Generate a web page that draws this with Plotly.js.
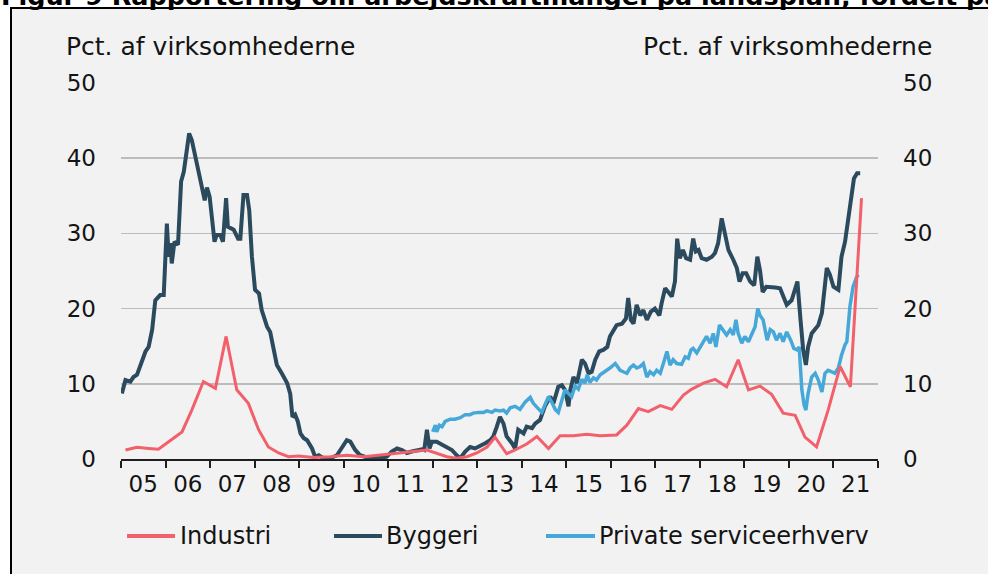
<!DOCTYPE html>
<html>
<head>
<meta charset="utf-8">
<script src="https://cdn.plot.ly/plotly-3.0.1.min.js"></script>
<style>
html,body{margin:0;padding:0;background:#ffffff;}
#chart{width:988px;height:574px;}
</style>
</head>
<body>
<div id="chart"></div>
<script>
// ---------- DATA ----------
const seriesNames = ['Industri', 'Byggeri', 'Private serviceerhverv'];
const yearStarts = [2005,2006,2007,2008,2009,2010,2011,2012,2013,2014,2015,2016,2017,2018,2019,2020,2021,2022];
const yearLabels = ['05','06','07','08','09','10','11','12','13','14','15','16','17','18','19','20','21'];
const yTicks = [0,10,20,30,40,50];
const titleText = 'Figur 9 Rapportering om arbejdskraftmangel på landsplan, fordelt på brancher';
const axisTitle = 'Pct. af virksomhederne';

const industriYears = [2005.10,2005.36,2005.62,2005.84,2006.07,2006.37,2006.59,2006.85,2007.12,2007.36,2007.60,2007.86,2008.09,2008.31,2008.54,2008.76,2008.99,2009.32,2009.70,2010.07,2010.45,2010.82,2011.20,2011.57,2011.87,2012.09,2012.32,2012.54,2012.77,2012.99,2013.22,2013.40,2013.66,2013.85,2014.11,2014.34,2014.60,2014.86,2015.16,2015.46,2015.76,2016.13,2016.36,2016.62,2016.84,2017.11,2017.37,2017.63,2017.82,2018.08,2018.34,2018.60,2018.86,2019.09,2019.35,2019.61,2019.87,2020.14,2020.36,2020.62,2020.88,2021.15,2021.38,2021.63];
const industriValues = [1.2,1.55,1.4,1.3,2.3,3.6,6.5,10.3,9.4,16.3,9.2,7.4,3.9,1.6,0.8,0.3,0.4,0.2,0.3,0.5,0.3,0.5,0.8,1.0,1.2,0.8,0.3,0.1,0.3,0.8,1.6,2.9,0.7,1.2,2.0,3.0,1.4,3.1,3.1,3.3,3.1,3.2,4.5,6.7,6.3,7.1,6.6,8.5,9.3,10.1,10.6,9.6,13.2,9.2,9.7,8.6,6.1,5.8,2.9,1.6,6.5,12.3,9.6,34.7];

const byggeriYears = [2005.02,2005.10,2005.21,2005.28,2005.36,2005.47,2005.55,2005.62,2005.70,2005.77,2005.88,2005.96,2006.03,2006.07,2006.11,2006.14,2006.20,2006.28,2006.35,2006.41,2006.47,2006.53,2006.59,2006.67,2006.74,2006.83,2006.88,2006.93,2006.99,2007.04,2007.10,2007.15,2007.23,2007.29,2007.36,2007.40,2007.45,2007.53,2007.63,2007.68,2007.75,2007.83,2007.88,2007.94,2008.01,2008.10,2008.16,2008.28,2008.35,2008.43,2008.50,2008.61,2008.73,2008.80,2008.85,2008.91,2008.97,2009.03,2009.10,2009.18,2009.29,2009.36,2009.44,2009.55,2009.70,2009.85,2009.96,2010.07,2010.15,2010.26,2010.37,2010.52,2010.75,2010.97,2011.08,2011.20,2011.31,2011.42,2011.53,2011.64,2011.76,2011.81,2011.87,2011.93,2011.98,2012.09,2012.21,2012.32,2012.43,2012.54,2012.62,2012.73,2012.84,2012.95,2013.07,2013.18,2013.29,2013.36,2013.44,2013.51,2013.59,2013.66,2013.78,2013.85,2013.92,2014.04,2014.11,2014.23,2014.30,2014.41,2014.52,2014.64,2014.71,2014.82,2014.90,2014.97,2015.05,2015.09,2015.16,2015.24,2015.35,2015.42,2015.50,2015.57,2015.65,2015.74,2015.83,2015.92,2015.98,2016.06,2016.13,2016.25,2016.34,2016.39,2016.45,2016.51,2016.58,2016.66,2016.73,2016.81,2016.90,2016.99,2017.09,2017.14,2017.22,2017.29,2017.37,2017.44,2017.49,2017.55,2017.62,2017.69,2017.78,2017.85,2017.91,2017.97,2018.04,2018.15,2018.27,2018.34,2018.41,2018.49,2018.56,2018.64,2018.75,2018.83,2018.89,2018.96,2019.04,2019.13,2019.22,2019.29,2019.35,2019.41,2019.49,2019.58,2019.69,2019.80,2019.87,2019.95,2020.06,2020.14,2020.19,2020.26,2020.32,2020.38,2020.43,2020.51,2020.59,2020.66,2020.74,2020.79,2020.85,2020.92,2021.00,2021.11,2021.18,2021.26,2021.33,2021.41,2021.46,2021.53,2021.60];
const byggeriValues = [8.7,10.5,10.3,10.9,11.2,13.2,14.3,14.9,17.2,21.1,21.8,21.8,31.3,26.9,28.7,26.0,28.9,28.5,36.9,38.2,40.6,43.3,42.4,40.2,38.0,35.5,34.4,36.1,34.9,32.2,28.9,29.8,29.8,28.9,34.7,30.9,30.7,30.5,29.3,29.3,35.1,35.1,33.1,26.9,22.5,22.0,19.8,17.6,16.9,14.5,12.5,11.4,10.1,8.7,5.6,5.9,5.0,3.4,2.8,2.5,1.4,0.3,0.5,0.1,0.1,0.5,1.4,2.5,2.3,1.2,0.5,0.2,0.1,0.3,1.0,1.4,1.2,0.8,1.0,1.2,1.3,1.2,3.9,1.4,2.3,2.3,1.9,1.6,1.2,0.5,0.1,1.0,1.6,1.4,1.7,2.1,2.5,3.0,4.3,5.6,4.7,3.0,2.1,1.4,3.9,3.4,4.3,4.1,4.7,5.2,7.0,8.3,7.4,9.6,9.8,9.2,7.0,9.2,10.9,10.1,13.2,12.7,11.4,11.6,13.2,14.3,14.5,14.9,16.3,17.2,17.8,18.0,18.7,21.4,18.5,18.0,20.5,19.1,19.8,18.5,19.6,20.0,19.1,20.7,22.7,22.2,21.6,23.6,29.3,26.7,27.8,26.7,26.5,29.3,27.6,27.8,26.7,26.5,26.9,27.4,28.7,32.0,30.2,27.8,26.5,25.4,23.6,24.7,24.7,23.6,23.1,26.9,25.1,22.2,22.9,22.9,22.8,22.7,21.6,20.5,21.1,22.7,23.6,18.5,14.5,12.5,14.9,16.7,17.4,17.8,19.4,22.5,25.4,24.5,22.9,22.5,26.9,28.9,32.0,35.8,37.3,38.0,38.0];

const serviceYears = [2012.00,2012.06,2012.09,2012.15,2012.21,2012.28,2012.39,2012.50,2012.62,2012.73,2012.84,2012.91,2013.03,2013.14,2013.22,2013.33,2013.40,2013.51,2013.59,2013.66,2013.74,2013.85,2013.96,2014.08,2014.19,2014.26,2014.37,2014.45,2014.52,2014.60,2014.67,2014.75,2014.82,2014.90,2014.97,2015.05,2015.12,2015.20,2015.27,2015.35,2015.42,2015.47,2015.53,2015.61,2015.68,2015.76,2015.87,2015.98,2016.10,2016.21,2016.28,2016.36,2016.43,2016.51,2016.58,2016.66,2016.73,2016.81,2016.88,2016.96,2017.03,2017.11,2017.18,2017.26,2017.33,2017.40,2017.48,2017.59,2017.67,2017.74,2017.80,2017.85,2017.93,2018.00,2018.08,2018.15,2018.23,2018.30,2018.36,2018.44,2018.51,2018.60,2018.68,2018.75,2018.81,2018.86,2018.94,2019.01,2019.09,2019.16,2019.24,2019.30,2019.35,2019.42,2019.51,2019.58,2019.65,2019.72,2019.80,2019.87,2019.95,2020.04,2020.11,2020.19,2020.23,2020.29,2020.34,2020.38,2020.43,2020.51,2020.59,2020.66,2020.74,2020.81,2020.88,2020.96,2021.03,2021.11,2021.18,2021.26,2021.30,2021.37,2021.44,2021.52,2021.56];
const serviceValues = [3.6,4.5,3.6,4.5,4.3,5.0,5.3,5.3,5.5,5.9,5.9,6.1,6.2,6.2,6.4,6.2,6.5,6.4,6.5,6.1,6.8,7.0,6.6,7.6,8.2,7.4,6.7,6.2,7.2,8.3,7.6,6.6,6.2,7.8,9.2,8.7,8.3,9.7,9.3,10.6,10.1,11.2,10.2,10.8,10.5,11.2,11.6,12.1,12.7,11.8,11.6,11.4,12.1,12.5,12.1,12.3,12.7,10.9,11.6,11.2,11.8,11.4,12.7,14.3,12.5,13.2,12.7,12.6,13.6,13.4,14.5,14.7,14.1,14.9,15.6,16.3,15.4,16.7,14.9,17.8,17.2,16.5,17.2,16.5,18.5,16.7,15.4,16.3,15.6,16.5,17.6,20.0,19.1,18.5,15.8,17.2,16.9,15.8,16.7,15.6,16.9,15.8,14.7,14.5,14.9,9.2,7.2,6.5,8.7,10.9,11.4,10.5,8.9,11.4,11.8,11.6,11.4,12.1,13.8,15.2,15.6,20.3,22.9,24.2,24.5];

// ---------- STYLE ----------
const colors = {industri: '#f2616b', byggeri: '#2b4a5e', service: '#46a8d8'};
const W = 988, H = 574;
const M = {l: 121, r: 110, t: 83, b: 115};
const PW = W - M.l - M.r, PH = H - M.t - M.b;
const px = v => (v - M.l) / PW;          // pixel x -> paper x
const py = v => (H - M.b - v) / PH;       // pixel y -> paper y
const FONT = 'DejaVu Sans';
const TXT = '#141414';

const yearMids = yearLabels.map((_, i) => yearStarts[i] + 0.5);

const traces = [
  {x: byggeriYears, y: byggeriValues, name: seriesNames[1], type: 'scatter', mode: 'lines',
   line: {color: colors.byggeri, width: 4}, yaxis: 'y', hoverinfo: 'skip'},
  {x: serviceYears, y: serviceValues, name: seriesNames[2], type: 'scatter', mode: 'lines',
   line: {color: colors.service, width: 3.5}, yaxis: 'y', hoverinfo: 'skip'},
  {x: industriYears, y: industriValues, name: seriesNames[0], type: 'scatter', mode: 'lines',
   line: {color: colors.industri, width: 3}, yaxis: 'y2', hoverinfo: 'skip'}
];

// manual legend
const legendItems = [
  {name: seriesNames[0], color: colors.industri, x0: 127, x1: 175, tx: 178},
  {name: seriesNames[1], color: colors.byggeri, x0: 334, x1: 382, tx: 384},
  {name: seriesNames[2], color: colors.service, x0: 546, x1: 595, tx: 597}
];
const legendY = 536;

const shapes = [
  {type: 'rect', xref: 'paper', yref: 'paper', layer: 'below',
   x0: px(11), x1: px(1010), y0: py(620), y1: py(8),
   fillcolor: '#f2f2f2', line: {color: '#000000', width: 2}}
];
legendItems.forEach(it => shapes.push({
  type: 'line', xref: 'paper', yref: 'paper', x0: px(it.x0), x1: px(it.x1), y0: py(legendY), y1: py(legendY),
  line: {color: it.color, width: 4}
}));

const annotations = [
  {text: '<b>' + titleText + '</b>', xref: 'paper', yref: 'paper', x: px(-1), y: py(13),
   xanchor: 'left', yanchor: 'bottom', showarrow: false, font: {family: FONT, size: 25.5, color: '#000'}},
  {text: axisTitle, xref: 'paper', yref: 'paper', x: px(64), y: py(46), xanchor: 'left', yanchor: 'middle',
   showarrow: false, font: {family: FONT, size: 25, color: TXT}},
  {text: axisTitle, xref: 'paper', yref: 'paper', x: px(934), y: py(46), xanchor: 'right', yanchor: 'middle',
   showarrow: false, font: {family: FONT, size: 25, color: TXT}}
];
legendItems.forEach(it => annotations.push({
  text: it.name, xref: 'paper', yref: 'paper', x: px(it.tx), y: py(legendY), xanchor: 'left', yanchor: 'middle',
  showarrow: false, font: {family: FONT, size: 24, color: TXT}
}));

const tickFont = {family: FONT, size: 23, color: TXT};

const layout = {
  width: W, height: H,
  margin: {l: M.l, r: M.r, t: M.t, b: M.b, pad: 0},
  paper_bgcolor: '#ffffff',
  plot_bgcolor: 'rgba(0,0,0,0)',
  showlegend: false,
  font: {family: FONT, color: TXT},
  xaxis: {
    range: [yearStarts[0], yearStarts[yearStarts.length - 1]],
    tickmode: 'array', tickvals: yearMids, ticktext: yearLabels,
    ticks: '', showgrid: false, zeroline: false,
    showline: true, linecolor: '#1e1e1e', linewidth: 2,
    tickfont: tickFont, ticklabelstandoff: 3,
    minor: {tickmode: 'array', tickvals: yearStarts, ticks: 'outside', ticklen: 7, tickwidth: 2,
            tickcolor: '#1e1e1e', showgrid: false},
    fixedrange: true
  },
  yaxis: {
    range: [0, 50], tickmode: 'array', tickvals: yTicks,
    ticks: '', showgrid: true, gridcolor: '#bcbcbc', gridwidth: 1.5,
    zeroline: false, showline: false, tickfont: tickFont, ticklabelstandoff: 24,
    fixedrange: true
  },
  yaxis2: {
    range: [0, 50], tickmode: 'array', tickvals: yTicks, overlaying: 'y', side: 'right',
    ticks: '', showgrid: false, zeroline: false, showline: false, tickfont: tickFont,
    ticklabelstandoff: 24, fixedrange: true
  },
  shapes: shapes,
  annotations: annotations
};

Plotly.newPlot('chart', traces, layout, {staticPlot: true, displayModeBar: false});
</script>
</body>
</html>
